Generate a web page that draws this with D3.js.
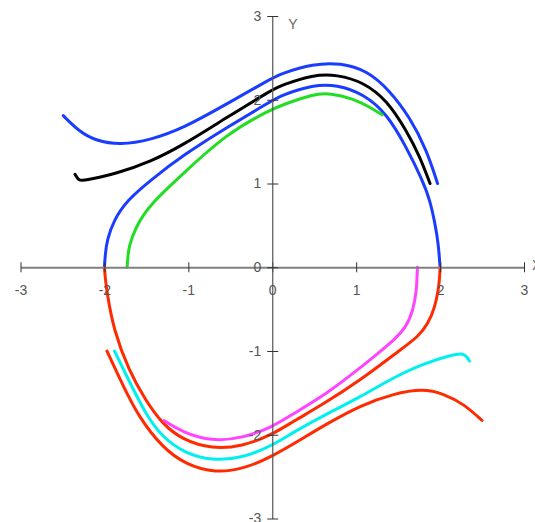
<!DOCTYPE html>
<html>
<head>
<meta charset="utf-8">
<script src="https://cdn.jsdelivr.net/npm/d3@7"></script>
<style>
  html, body { margin: 0; padding: 0; background: #fff; }
  svg { display: block; }
  .tick text { font-family: "Liberation Sans", Arial, sans-serif; font-size: 14px; fill: #555; }
</style>
</head>
<body>
<svg id="chart" width="535" height="522"></svg>
<script>
// ---- Data ----
const xTicks = [-3, -2, -1, 0, 1, 2, 3];
const yTicks = [-3, -2, -1, 0, 1, 2, 3];
const xAxisLabel = "X";
const yAxisLabel = "Y";

const outerBlue = [[-2.49,1.81],[-2.30,1.62],[-2.10,1.51],[-1.81,1.46],[-1.45,1.52],[-1.06,1.66],[-0.54,1.95],[0,2.26],[0.10,2.31],[0.49,2.43],[0.81,2.44],[1.13,2.35],[1.40,2.11],[1.64,1.79],[1.84,1.40],[1.97,1.00]];
const blackCurve = [[-2.35,1.11],[-2.31,1.04],[-2.25,1.03],[-1.85,1.12],[-1.45,1.26],[-1.06,1.46],[-0.54,1.79],[0,2.12],[0.10,2.17],[0.49,2.30],[0.77,2.30],[1.09,2.21],[1.37,1.99],[1.60,1.63],[1.76,1.32],[1.88,1.00]];
const innerBlue = [[-2.00,0],[-1.99,0.15],[-1.97,0.32],[-1.89,0.56],[-1.73,0.80],[-1.45,1.04],[-1.06,1.34],[-0.54,1.67],[0,1.99],[0.10,2.05],[0.49,2.18],[0.77,2.18],[1.09,2.07],[1.37,1.83],[1.60,1.43],[1.79,1.04],[1.88,0.80],[1.94,0.52],[1.98,0.28],[2.00,0]];
const greenCurve = [[-1.73,0],[-1.72,0.12],[-1.71,0.24],[-1.63,0.48],[-1.45,0.76],[-1.06,1.12],[-0.54,1.60],[0,1.89],[0.10,1.93],[0.49,2.07],[0.69,2.08],[0.97,2.01],[1.13,1.93],[1.31,1.82]];
const magentaCurve = [[1.73,0],[1.725,-0.12],[1.72,-0.27],[1.68,-0.51],[1.60,-0.71],[1.45,-0.87],[1.28,-1.01],[1.05,-1.20],[0.65,-1.51],[0.25,-1.75],[0,-1.91],[-0.36,-2.04],[-0.72,-2.08],[-1.07,-1.97],[-1.29,-1.83]];
const innerRed = [[-2.00,0],[-1.99,-0.13],[-1.97,-0.30],[-1.89,-0.75],[-1.71,-1.23],[-1.51,-1.59],[-1.31,-1.87],[-1.07,-2.06],[-0.72,-2.17],[-0.36,-2.14],[0,-2.00],[0.25,-1.84],[0.60,-1.64],[1.05,-1.35],[1.52,-0.99],[1.74,-0.83],[1.86,-0.67],[1.94,-0.47],[1.98,-0.27],[1.995,-0.12],[2.00,0]];
const cyanCurve = [[-1.88,-1.00],[-1.71,-1.35],[-1.51,-1.75],[-1.31,-2.03],[-1.04,-2.22],[-0.72,-2.31],[-0.36,-2.28],[0,-2.13],[0.25,-1.97],[0.65,-1.75],[1.05,-1.55],[1.40,-1.34],[1.80,-1.15],[2.16,-1.04],[2.28,-1.03],[2.32,-1.07],[2.35,-1.12]];
const outerRed = [[-1.97,-1.00],[-1.79,-1.39],[-1.59,-1.79],[-1.31,-2.15],[-1.04,-2.35],[-0.68,-2.46],[-0.32,-2.40],[0,-2.26],[0.37,-2.04],[0.65,-1.87],[1.05,-1.65],[1.44,-1.51],[1.80,-1.45],[2.04,-1.51],[2.28,-1.63],[2.50,-1.83]];

const curves = [
  { data: innerBlue,    color: "#1a3cff" },
  { data: outerBlue,    color: "#1a3cff" },
  { data: blackCurve,   color: "#000000" },
  { data: greenCurve,   color: "#22dd22" },
  { data: innerRed,     color: "#ff2a00" },
  { data: outerRed,     color: "#ff2a00" },
  { data: cyanCurve,    color: "#00f0f0" },
  { data: magentaCurve, color: "#ff44ff" }
];

// ---- Scales ----
const svg = d3.select("#chart");
const x = d3.scaleLinear().domain([-3, 3]).range([20.5, 524]);
const y = d3.scaleLinear().domain([-3, 3]).range([518.5, 16]);

// ---- Curves ----
const line = d3.line()
  .x(d => x(d[0]))
  .y(d => y(d[1]))
  .curve(d3.curveBasis);

svg.append("g").selectAll("path")
  .data(curves)
  .join("path")
  .attr("d", d => line(d.data))
  .attr("fill", "none")
  .attr("stroke", d => d.color)
  .attr("stroke-width", 3)
  .attr("stroke-linecap", "round")
  .attr("stroke-linejoin", "round");

// ---- Axes ----
const xAxis = d3.axisBottom(x).tickValues(xTicks).tickFormat(d3.format("d"))
  .tickSizeInner(5).tickSizeOuter(0).tickPadding(13);
const gx = svg.append("g").attr("transform", `translate(0,${y(0)})`).call(xAxis);
gx.select(".domain").attr("stroke", "#808080").attr("stroke-width", 2);
gx.selectAll(".tick line").attr("y1", -5).attr("y2", 5).attr("stroke", "#333");
gx.selectAll(".tick text").text(d => d < 0 ? "-" + Math.abs(d) : d);

const yAxis = d3.axisLeft(y).tickValues(yTicks).tickFormat(d3.format("d"))
  .tickSizeInner(5).tickSizeOuter(0).tickPadding(6);
const gy = svg.append("g").attr("transform", `translate(${x(0)},0)`).call(yAxis);
gy.select(".domain").attr("stroke", "#555").attr("stroke-width", 1.2);
gy.selectAll(".tick line").attr("x1", -5).attr("x2", 6).attr("stroke", "#333");
gy.selectAll(".tick text").text(d => d < 0 ? "-" + Math.abs(d) : d);

// Axis titles
svg.append("text").attr("x", x(0) + 16).attr("y", y(3) + 13)
  .attr("font-family", "Liberation Sans, Arial, sans-serif").attr("font-size", 14)
  .attr("fill", "#666").text(yAxisLabel);
svg.append("text").attr("x", x(3) + 8).attr("y", y(0) + 3)
  .attr("font-family", "Liberation Sans, Arial, sans-serif").attr("font-size", 14)
  .attr("fill", "#666").text(xAxisLabel);
</script>
</body>
</html>
